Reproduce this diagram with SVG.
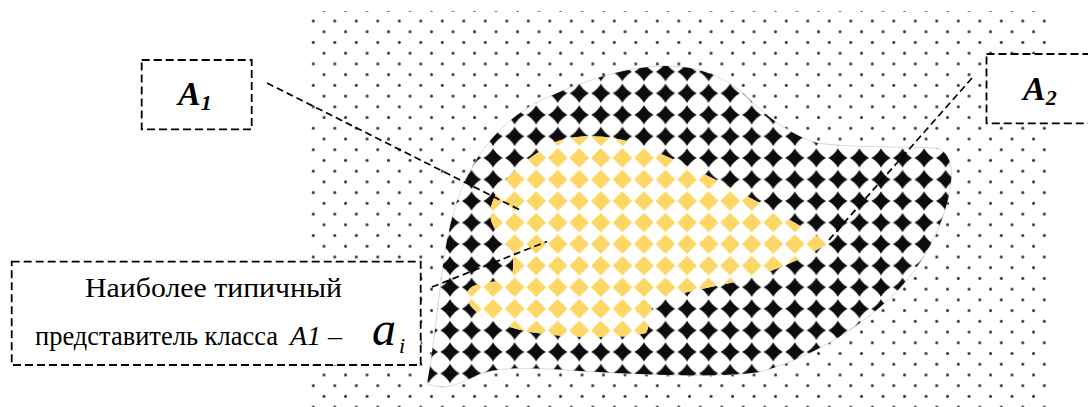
<svg xmlns="http://www.w3.org/2000/svg" width="1088" height="407" viewBox="0 0 1088 407">
<style>
.box{fill:#fff;stroke:#000;stroke-width:1.8;stroke-dasharray:8 4}
.con{fill:none;stroke:#000;stroke-width:1.7;stroke-dasharray:7 4}
.ser{font-family:'Liberation Serif','Times New Roman',serif;fill:#000}
.bi{font-weight:bold;font-style:italic}
.it{font-style:italic}
</style>
<defs>
<pattern id="dots" patternUnits="userSpaceOnUse" x="307.925" y="5" width="21.5" height="21.45">
<circle cx="5.375" cy="16" r="1.5" fill="#3a3a3a"/>
<circle cx="16.125" cy="5.275" r="1.5" fill="#3a3a3a"/>
</pattern>
<filter id="soft" x="-0.1" y="-0.1" width="1.2" height="1.2"><feGaussianBlur stdDeviation="0.6"/></filter>
<pattern id="blk" patternUnits="userSpaceOnUse" x="439.225" y="82.525" width="21.55" height="21.55">
<path d="M10.775,1.2 Q14.3,7.25 20.35,10.775 Q14.3,14.3 10.775,20.35 Q7.25,14.3 1.2,10.775 Q7.25,7.25 10.775,1.2 Z" fill="#111" filter="url(#soft)"/>
</pattern>
<pattern id="yel" patternUnits="userSpaceOnUse" x="439.225" y="82.525" width="21.55" height="21.55">
<path d="M10.775,0.9 L20.65,10.775 L10.775,20.65 L0.9,10.775 Z" fill="#FDD766"/>
</pattern>
</defs>
<rect id="dotfield" x="308" y="11" width="744" height="396" fill="url(#dots)"/>
<g id="class-A2">
<path d="M427,384 C432,360 436,320 440,290 C444,250 452,205 468,175 C485,140 515,110 553,95 C585,80 630,66 665,66 C690,66 720,72 745,95 C765,115 790,135 817,143 C850,148 900,146 935,148 C952,152 954,170 949,195 C941,230 925,260 900,288 C870,320 820,355 760,372 C720,378 650,375 580,371 C540,368 500,366 480,374 C465,380 450,392 427,384 Z" fill="#fff" stroke="#ccc" stroke-width="0.7"/>
<path d="M427,384 C432,360 436,320 440,290 C444,250 452,205 468,175 C485,140 515,110 553,95 C585,80 630,66 665,66 C690,66 720,72 745,95 C765,115 790,135 817,143 C850,148 900,146 935,148 C952,152 954,170 949,195 C941,230 925,260 900,288 C870,320 820,355 760,372 C720,378 650,375 580,371 C540,368 500,366 480,374 C465,380 450,392 427,384 Z" fill="url(#blk)"/>
</g>
<g id="class-A1">
<path d="M553,143 C575,133 612,134 642,146 C685,163 765,203 828,243 C800,262 762,275 735,282 C702,289 672,294 656,303 C647,311 651,325 646,333 C620,340 560,337 530,332 C500,326 474,316 468,301 C464,290 471,284 490,282 C505,281 513,278 513,268 L513,252 C503,241 490,227 490,213 C492,190 515,165 553,143 Z" fill="#fff"/>
<path d="M553,143 C575,133 612,134 642,146 C685,163 765,203 828,243 C800,262 762,275 735,282 C702,289 672,294 656,303 C647,311 651,325 646,333 C620,340 560,337 530,332 C500,326 474,316 468,301 C464,290 471,284 490,282 C505,281 513,278 513,268 L513,252 C503,241 490,227 490,213 C492,190 515,165 553,143 Z" fill="url(#yel)"/>
</g>
<g id="connectors">
<line class="con" x1="267" y1="83" x2="522" y2="211"/>
<line class="con" x1="972" y1="78" x2="828" y2="241"/>
<line class="con" x1="432" y1="287" x2="547" y2="241.5"/>
</g>
<g id="label-A1">
<rect class="box" x="141.7" y="60" width="110" height="69.3"/>
<text class="ser bi" x="178" y="105" font-size="34">A<tspan font-size="22" dy="5">1</tspan></text>
</g>
<g id="label-A2">
<rect class="box" x="986.5" y="54" width="110" height="69.3"/>
<text class="ser bi" x="1023" y="100" font-size="34">A<tspan font-size="22" dy="5">2</tspan></text>
</g>
<g id="label-typical">
<rect class="box" x="11.7" y="261.7" width="409" height="103.3"/>
<text class="ser" x="85" y="296.7" font-size="28" textLength="257" lengthAdjust="spacingAndGlyphs">Наиболее типичный</text>
<text class="ser" x="35" y="345" font-size="28" textLength="243" lengthAdjust="spacingAndGlyphs">представитель класса</text>
<text class="ser it" x="290" y="345" font-size="28">A1</text>
<text class="ser" x="328" y="345" font-size="28">–</text>
<text class="ser it" x="372" y="345" font-size="48">a</text>
<text class="ser it" x="399" y="353" font-size="22">i</text>
</g>
</svg>
